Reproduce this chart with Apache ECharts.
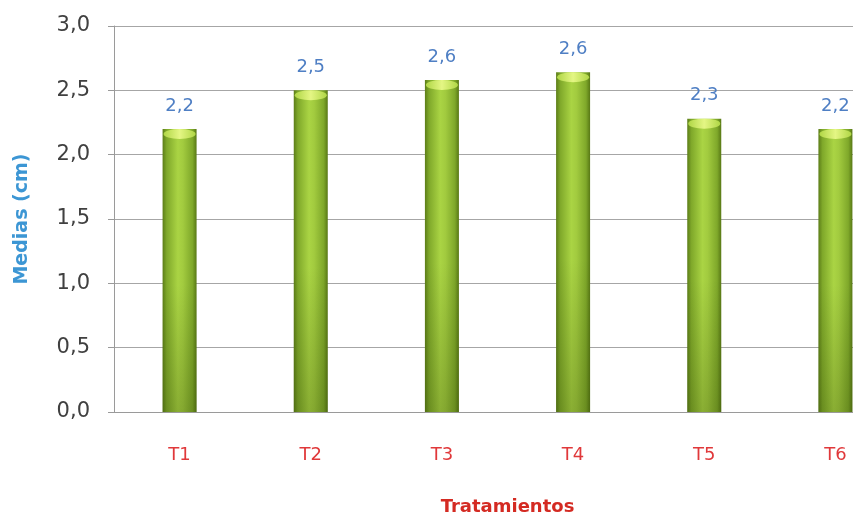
<!DOCTYPE html>
<html>
<head>
<meta charset="utf-8">
<script src="https://cdn.jsdelivr.net/npm/echarts@6/dist/echarts.min.js"></script>
<style>
  html, body { margin: 0; padding: 0; background: #ffffff; }
  #chart { width: 853px; height: 514px; }
</style>
</head>
<body>
<div id="chart"></div>
<script>
// Treatment means (cm)
const categories = ['T1', 'T2', 'T3', 'T4', 'T5', 'T6'];
const medias = [2.20, 2.50, 2.58, 2.64, 2.28, 2.20];
const yTicks = { min: 0, max: 3, interval: 0.5 };

const FONT = 'DejaVu Sans';
const fmt = v => Number(v).toFixed(1).replace('.', ',');

const chart = echarts.init(document.getElementById('chart'), null, { renderer: 'canvas' });

chart.setOption({
  animation: false,
  backgroundColor: '#ffffff',
  grid: { left: 114, top: 26, bottom: 102, right: -48, containLabel: false, outerBoundsMode: 'none' },
  xAxis: {
    type: 'category',
    data: categories,
    name: 'Tratamientos',
    nameLocation: 'middle',
    nameGap: 86,
    nameTextStyle: { color: '#d42a22', fontFamily: FONT, fontWeight: 'bold', fontSize: 18, verticalAlign: 'top' },
    axisLine: { show: true, lineStyle: { color: '#9a9a9a', width: 1 } },
    axisTick: { show: false },
    axisLabel: { color: '#e0383a', fontFamily: FONT, fontSize: 18, margin: 34 }
  },
  yAxis: {
    type: 'value',
    min: yTicks.min,
    max: yTicks.max,
    interval: yTicks.interval,
    name: 'Medias (cm)',
    nameLocation: 'middle',
    nameGap: 82,
    nameTextStyle: { color: '#3c96d4', fontFamily: FONT, fontWeight: 'bold', fontSize: 19 },
    axisLine: { show: true, lineStyle: { color: '#9a9a9a', width: 1 } },
    axisTick: { show: true, length: 6, lineStyle: { color: '#9a9a9a' } },
    axisLabel: { color: '#404040', fontFamily: FONT, fontSize: 21, margin: 24, formatter: fmt },
    splitLine: { show: true, lineStyle: { color: '#a6a6a6', width: 1 } }
  },
  series: [
    {
      // main cylinder body
      type: 'bar',
      data: medias,
      barWidth: 34,
      z: 2,
      itemStyle: {
        color: new echarts.graphic.LinearGradient(0, 0, 1, 0, [
          { offset: 0, color: '#5c7d18' },
          { offset: 0.12, color: '#7fa82a' },
          { offset: 0.45, color: '#aad444' },
          { offset: 0.6, color: '#a2cb3f' },
          { offset: 0.88, color: '#7fa82a' },
          { offset: 1, color: '#587815' }
        ])
      },
      label: {
        show: true,
        position: 'top',
        distance: 14,
        color: '#4f7fc4',
        fontFamily: FONT,
        fontSize: 18,
        formatter: p => fmt(p.value)
      }
    },
    {
      // shading toward the base
      type: 'bar',
      data: medias,
      barWidth: 34,
      barGap: '-100%',
      z: 3,
      silent: true,
      itemStyle: {
        color: new echarts.graphic.LinearGradient(0, 0, 0, 1, [
          { offset: 0, color: 'rgba(255,255,200,0)' },
          { offset: 0.55, color: 'rgba(40,60,0,0)' },
          { offset: 1, color: 'rgba(40,60,0,0.25)' }
        ])
      }
    },
    {
      // light cap on top of each cylinder
      type: 'pictorialBar',
      data: medias,
      symbol: 'circle',
      symbolSize: [32, 10],
      symbolPosition: 'end',
      symbolOffset: [0, 0],
      z: 4,
      silent: true,
      itemStyle: {
        color: new echarts.graphic.LinearGradient(0, 0, 1, 0, [
          { offset: 0, color: '#b0d646' },
          { offset: 0.5, color: '#e4f684' },
          { offset: 1, color: '#b0d646' }
        ])
      }
    }
  ]
});
</script>
</body>
</html>
